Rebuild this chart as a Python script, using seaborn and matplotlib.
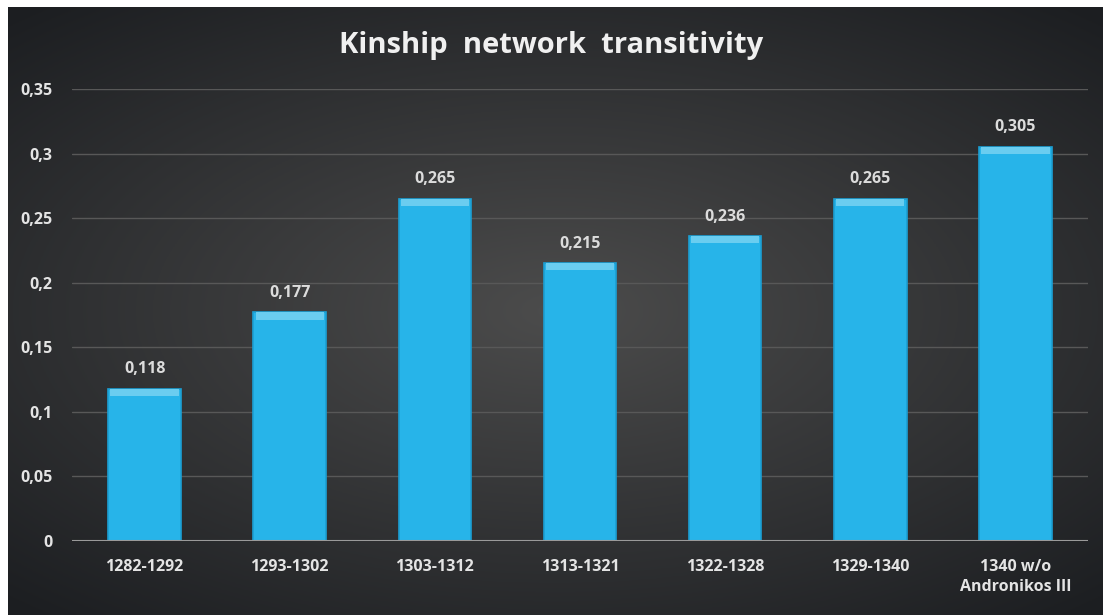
import numpy as np
import pandas as pd
import seaborn as sns
import matplotlib.pyplot as plt

periods = ["1282-1292", "1293-1302", "1303-1312", "1313-1321",
           "1322-1328", "1329-1340", "1340 w/o\nAndronikos III"]
transitivity = [0.118, 0.177, 0.265, 0.215, 0.236, 0.265, 0.305]
value_labels = ["0,118", "0,177", "0,265", "0,215", "0,236", "0,265", "0,305"]
y_ticks = [0, 0.05, 0.1, 0.15, 0.2, 0.25, 0.3, 0.35]
y_tick_labels = ["0", "0,05", "0,1", "0,15", "0,2", "0,25", "0,3", "0,35"]

sns.set_theme(style="dark")
plt.rcParams["font.family"] = ["Open Sans", "DejaVu Sans"]

W, H = 1103, 615
fig = plt.figure(figsize=(W / 100, H / 100), dpi=100, facecolor="white")

# radial gradient background
bg = fig.add_axes([8 / W, 0, 1 - 8 / W, 1 - 7 / H])
gx, gy = np.meshgrid(np.linspace(-1, 1, 400), np.linspace(-1, 1, 220))
r = np.clip(np.sqrt((gx * 0.95) ** 2 + (gy * 1.05) ** 2), 0, 1.4) / 1.4
inner = np.array([0x4c, 0x4c, 0x4c]) / 255
outer = np.array([0x1c, 0x1e, 0x21]) / 255
img = inner[None, None, :] * (1 - r[..., None]) + outer[None, None, :] * r[..., None]
bg.imshow(img, aspect="auto", extent=[0, 1, 0, 1])
bg.set_axis_off()

ax = fig.add_axes([72 / W, 1 - 541 / H, (1088 - 72) / W, (541 - 89) / H])
ax.patch.set_alpha(0)

df = pd.DataFrame({"period": periods, "value": transitivity})
sns.barplot(data=df, x="period", y="value", color="#27b4e9", width=0.5,
            edgecolor="#1b9fd3", linewidth=1.2, saturation=1, ax=ax, zorder=3)

# lighter bevel at bar tops
x = np.arange(len(periods))
bev = 0.0055
ax.bar(x, [bev] * len(x), bottom=np.array(transitivity) - bev, width=0.47,
       color="#6acdf0", linewidth=0, zorder=4)

for xi, v, lab in zip(x, transitivity, value_labels):
    ax.text(xi, v + 0.009, lab, ha="center", va="bottom", fontsize=11.5,
            fontweight="bold", color="#dcdcdc", zorder=5)

ax.set_ylim(0, 0.35)
ax.set_xlim(-0.5, len(periods) - 0.5)
ax.set_yticks(y_ticks)
ax.set_yticklabels(y_tick_labels)
ax.yaxis.grid(True, color="#585858", linewidth=1.0, zorder=0)
ax.xaxis.grid(False)
ax.axhline(0, color="#9a9a9a", linewidth=1.5, zorder=6)
for s in ax.spines.values():
    s.set_visible(False)
ax.tick_params(axis="both", length=0, labelsize=11.5, labelcolor="#e4e4e4")
ax.tick_params(axis="x", pad=13)
ax.tick_params(axis="y", pad=14)
for t in ax.get_xticklabels() + ax.get_yticklabels():
    t.set_fontweight("bold")
    t.set_linespacing(1.35)
ax.set_xlabel("")
ax.set_ylabel("")

fig.text(0.5, 1 - 46 / H, "Kinship  network  transitivity", ha="center", va="center",
         fontsize=21, fontweight="bold", color="#f0f0f0")

fig.savefig("out.png", dpi=100, facecolor="white")
